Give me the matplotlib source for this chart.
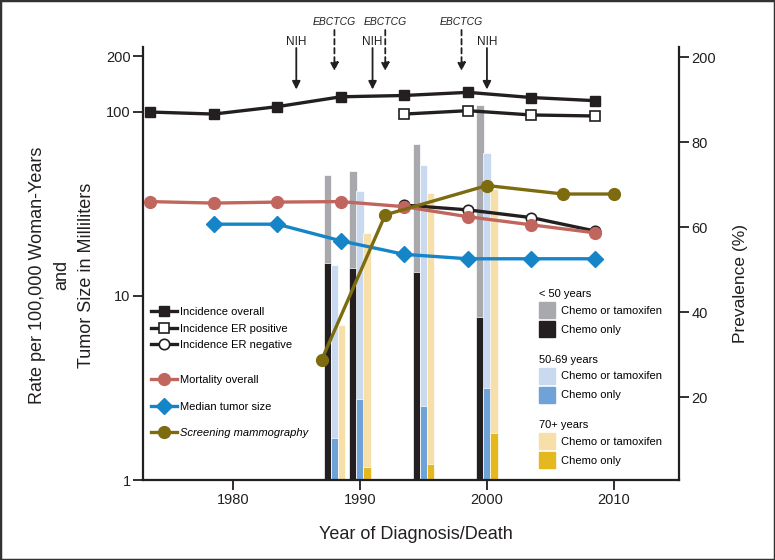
import matplotlib
matplotlib.use("Agg")
import numpy as np
import matplotlib.pyplot as plt
import matplotlib.transforms as mtransforms
from matplotlib.legend import Legend
from matplotlib.lines import Line2D
from matplotlib.patches import Patch, Rectangle

plt.rcParams['font.family'] = ['Liberation Sans', 'DejaVu Sans']

# --- data ---
inc_years = [1973.5, 1978.5, 1983.5, 1988.5, 1993.5, 1998.5, 2003.5, 2008.5]
inc_overall = [99.6, 97.1, 106.5, 120.5, 122.5, 127.4, 119.4, 114.8]
mortality = [32.5, 31.9, 32.3, 32.5, 30.5, 26.9, 24.3, 22.0]

er_years = [1993.5, 1998.5, 2003.5, 2008.5]
inc_er_pos = [97.1, 101.3, 96.0, 94.8]
inc_er_neg = [31.1, 29.3, 26.6, 22.5]

size_years = [1978.5, 1983.5, 1988.5, 1993.5, 1998.5, 2003.5, 2008.5]
tumor_size = [24.5, 24.5, 19.9, 16.8, 15.9, 15.9, 15.9]

screen_years = [1987, 1992, 2000, 2006, 2010]
screening = [28.8, 62.9, 69.8, 67.8, 67.8]

bar_years = [1988, 1990, 1995, 2000]
lt50_any = [45.3, 47.8, 66.8, 108.7]
lt50_chemo = [15.1, 14.2, 13.4, 7.67]
mid_any = [14.7, 37.2, 51.5, 59.9]
mid_chemo = [1.69, 2.75, 2.53, 3.16]
old_any = [6.95, 21.9, 36.3, 37.9]
old_chemo = [1.0, 1.18, 1.22, 1.80]

nih_years = [1985, 1991, 2000]
ebctcg_years = [1988, 1992, 1998]

# --- colours ---
INK = '#231f20'
GRAY = '#a7a9ac'
LT_BLUE = '#c9daf0'
BLUE = '#6fa3d8'
LT_GOLD = '#f6dfa8'
GOLD = '#e6b820'
RED = '#c1665e'
TUMOR = '#1685c8'
OLIVE = '#7d6b10'

W, H = 775, 560
fig = plt.figure(figsize=(W / 100, H / 100), dpi=100)
ax = fig.add_axes([143 / W, 80 / H, 536 / W, 433 / H])
ax2 = ax.twinx()

# --- bars (log axis) ---
bx = np.array(bar_years, dtype=float)
bw = 0.58
off = 0.55
bar_kw = dict(width=bw, edgecolor='white', linewidth=0.5, zorder=1)
ax.bar(bx - off, lt50_any, color=GRAY, **bar_kw)
ax.bar(bx - off, lt50_chemo, color=INK, **bar_kw)
ax.bar(bx, mid_any, color=LT_BLUE, **bar_kw)
ax.bar(bx, mid_chemo, color=BLUE, **bar_kw)
ax.bar(bx + off, old_any, color=LT_GOLD, **bar_kw)
ax.bar(bx + off, old_chemo, color=GOLD, **bar_kw)

# --- lines ---
ax.plot(inc_years, inc_overall, color=INK, lw=2.4, marker='s', ms=7, mfc=INK, mec=INK, zorder=4)
ax.plot(er_years, inc_er_pos, color=INK, lw=2.4, marker='s', ms=7, mfc='white', mec=INK, mew=1.2, zorder=4)
ax.plot(er_years, inc_er_neg, color=INK, lw=2.4, marker='o', ms=7.5, mfc='white', mec=INK, mew=1.2, zorder=4)
ax.plot(inc_years, mortality, color=RED, lw=2.4, marker='o', ms=8.5, mfc=RED, mec=RED, zorder=5)
ax.plot(size_years, tumor_size, color=TUMOR, lw=2.4, marker='D', ms=8, mfc=TUMOR, mec=TUMOR, zorder=5)
ax2.plot(screen_years, screening, color=OLIVE, lw=2.4, marker='o', ms=8.5, mfc=OLIVE, mec=OLIVE, zorder=5)

# --- axes ---
ax.set_xlim(1972.94, 2015.11)
ax.set_yscale('log')
ax.set_ylim(1, 224.6)
ax.set_yticks([1, 10, 100, 200])
ax.set_yticklabels(['1', '10', '100', '200'])
ax.yaxis.set_minor_locator(matplotlib.ticker.NullLocator())
ax.set_xticks([1980, 1990, 2000, 2010])

ax2.set_ylim(0.5, 102.4)
ax2.set_yticks([20, 40, 60, 80, 100])
ax2.set_yticklabels(['20', '40', '60', '80', '200'])

for a in (ax, ax2):
    a.spines['top'].set_visible(False)
    for s in a.spines.values():
        s.set_color(INK)
        s.set_linewidth(1.6)
    a.tick_params(direction='out', length=7, width=1.3, color=INK, labelsize=10.5, labelcolor=INK, pad=2)
ax.spines['right'].set_visible(False)
ax2.spines['left'].set_visible(False)
ax2.spines['bottom'].set_visible(False)

ax.set_xlabel('Year of Diagnosis/Death', fontsize=13, color=INK, va='center')
ax.xaxis.set_label_coords(0.509, -0.127)
ax.set_ylabel('Rate per 100,000 Woman-Years\nand\nTumor Size in Milliliters', fontsize=13,
              color=INK, linespacing=1.6, va='center')
ax.yaxis.set_label_coords(-0.151, 0.473)
ax2.set_ylabel('Prevalence (%)', fontsize=12.5, color=INK, va='center')
ax2.yaxis.set_label_coords(1.114, 0.454)

# --- guideline arrows above the chart ---
trans = mtransforms.blended_transform_factory(ax.transData, fig.transFigure)
for yr in nih_years:
    ax.annotate('', xy=(yr, 1 - 89.5 / H), xytext=(yr, 1 - 48 / H), xycoords=trans, textcoords=trans,
                arrowprops=dict(arrowstyle='-|>', color=INK, lw=1.3, mutation_scale=12, shrinkA=0, shrinkB=0),
                annotation_clip=False)
    ax.text(yr, 1 - 41.7 / H, 'NIH', transform=trans, ha='center', va='center', fontsize=8.5, color=INK)
for yr in ebctcg_years:
    ax.annotate('', xy=(yr, 1 - 71 / H), xytext=(yr, 1 - 30 / H), xycoords=trans, textcoords=trans,
                arrowprops=dict(arrowstyle='-|>', color=INK, lw=1.3, ls=(0, (3, 2)), mutation_scale=12,
                                shrinkA=0, shrinkB=0),
                annotation_clip=False)
    ax.text(yr, 1 - 21.7 / H, 'EBCTCG', transform=trans, ha='center', va='center', fontsize=7.5,
            style='italic', color=INK)

# --- line legends ---
lprop = dict(size=8)
inc_handles = [
    Line2D([], [], color=INK, lw=2.4, marker='s', ms=7, mfc=INK, mec=INK),
    Line2D([], [], color=INK, lw=2.4, marker='s', ms=7, mfc='white', mec=INK, mew=1.2),
    Line2D([], [], color=INK, lw=2.4, marker='o', ms=7.5, mfc='white', mec=INK, mew=1.2),
]
leg1 = Legend(ax2, inc_handles, ['Incidence overall', 'Incidence ER positive', 'Incidence ER negative'],
              loc='upper left', bbox_to_anchor=(151 / W, 1 - 307 / H), bbox_transform=fig.transFigure,
              frameon=False, prop=lprop, borderpad=0, borderaxespad=0, handlelength=2.3,
              handletextpad=0.35, labelspacing=0.6)
ax2.add_artist(leg1)
other_handles = [
    Line2D([], [], color=RED, lw=2.4, marker='o', ms=8.5, mfc=RED, mec=RED),
    Line2D([], [], color=TUMOR, lw=2.4, marker='D', ms=8, mfc=TUMOR, mec=TUMOR),
    Line2D([], [], color=OLIVE, lw=2.4, marker='o', ms=8.5, mfc=OLIVE, mec=OLIVE),
]
leg2 = Legend(ax2, other_handles, ['Mortality overall', 'Median tumor size', 'Screening mammography'],
              loc='upper left', bbox_to_anchor=(151 / W, 1 - 375 / H), bbox_transform=fig.transFigure,
              frameon=False, prop=lprop, borderpad=0, borderaxespad=0, handlelength=2.3,
              handletextpad=0.35, labelspacing=1.5)
leg2.get_texts()[-1].set_style('italic')
ax2.add_artist(leg2)

# --- bar legends ---
pad = 0.4
pad_px = pad * 8 * 100 / 72
groups = [('< 50 years', GRAY, INK, 289), ('50-69 years', LT_BLUE, BLUE, 354.7), ('70+ years', LT_GOLD, GOLD, 420)]
for title, c_any, c_chemo, top in groups:
    lg = Legend(ax2, [Patch(color=c_any), Patch(color=c_chemo)], ['Chemo or tamoxifen', 'Chemo only'],
                title=title, alignment='left', loc='upper left',
                bbox_to_anchor=((539 - pad_px) / W, 1 - (top - pad_px) / H), bbox_transform=fig.transFigure,
                frameon=False, prop=lprop, title_fontproperties=lprop, borderpad=pad, borderaxespad=0,
                handlelength=1.45, handleheight=1.84, handletextpad=0.5, labelspacing=0.27)
    ax2.add_artist(lg)

# figure frame
fig.patches.append(Rectangle((0, 0), 1, 1, transform=fig.transFigure, fill=False,
                             edgecolor='#333333', linewidth=2.5))

fig.savefig('out.png', dpi=100)
